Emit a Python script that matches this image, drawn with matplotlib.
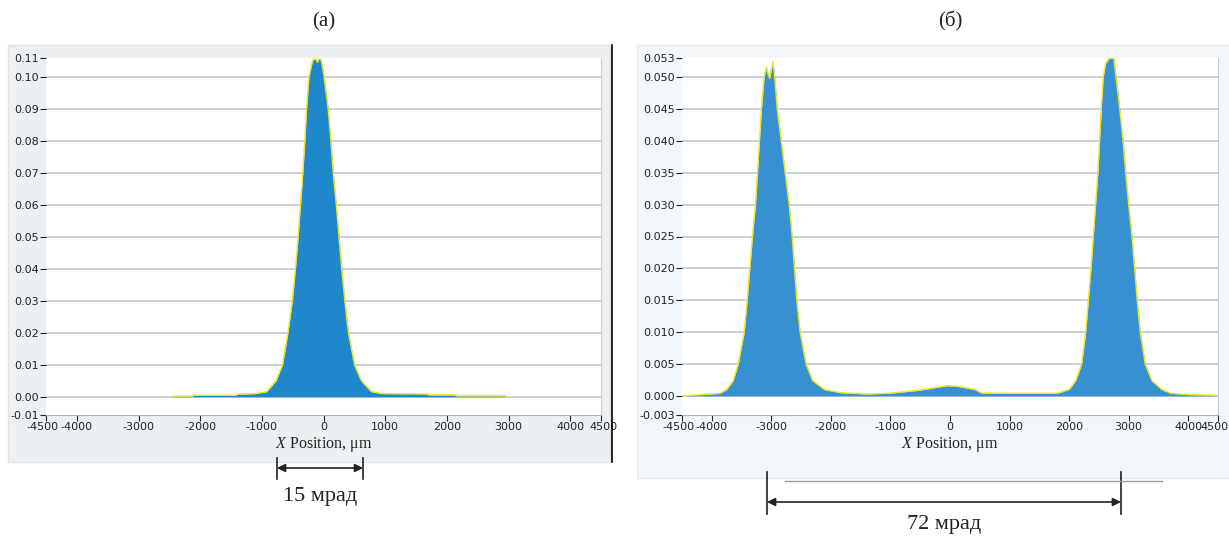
import matplotlib
matplotlib.use("Agg")
import matplotlib.pyplot as plt
from matplotlib.patches import Rectangle
from matplotlib.lines import Line2D
from matplotlib.transforms import blended_transform_factory, ScaledTranslation

plt.rcParams["mathtext.fontset"] = "custom"
plt.rcParams["mathtext.rm"] = "Liberation Serif"
plt.rcParams["mathtext.it"] = "Liberation Serif:italic"

# (a) профиль одного пучка
x_a = [-2450, -2120, -2120, -1410, -1410, -1100, -923, -769, -665, -577, -506,
       -456, -412, -374, -336, -303, -275, -237, -220, -180, -155, -120, -100,
       -80, -50, -33, 10, 76, 120, 158, 208, 252, 296, 346, 405, 504, 614, 779,
       950, 1700, 1700, 2150, 2150, 2950]
y_a = [0.0002, 0.0002, 0.0005, 0.0005, 0.0008, 0.0010, 0.0016, 0.005, 0.010,
       0.020, 0.030, 0.040, 0.050, 0.060, 0.070, 0.080, 0.090, 0.100, 0.1016,
       0.1050, 0.1058, 0.1055, 0.1047, 0.1056, 0.1057, 0.1050, 0.100, 0.090,
       0.080, 0.070, 0.060, 0.050, 0.040, 0.030, 0.020, 0.010, 0.005, 0.0016,
       0.0010, 0.0009, 0.0006, 0.0006, 0.0003, 0.0003]

# (б) два пучка
x_b = [-4500, -4330, -4010, -3866, -3750, -3639, -3556, -3456, -3406, -3361,
       -3317, -3267, -3233, -3200, -3167, -3122, -3083, -3055, -3028, -2995,
       -2972, -2944, -2900, -2833, -2767, -2700, -2650, -2611, -2572, -2517,
       -2417, -2306, -2111, -1833, -1400, -1030, -509, -46, 127, 417, 532, 1000,
       1806, 1833, 2000, 2111, 2211, 2278, 2322, 2367, 2406, 2444, 2483, 2511,
       2539, 2572, 2611, 2667, 2750, 2789, 2850, 2906, 2950, 3000, 3056, 3100,
       3144, 3194, 3278, 3389, 3556, 3715, 4005, 4450]
y_b = [0.0000, 0.0001, 0.0003, 0.0004, 0.0010, 0.0024, 0.005, 0.010, 0.015,
       0.020, 0.025, 0.030, 0.035, 0.040, 0.045, 0.050, 0.0516, 0.0505, 0.0498,
       0.0515, 0.0525, 0.050, 0.045, 0.040, 0.035, 0.030, 0.025, 0.020, 0.015,
       0.010, 0.005, 0.0024, 0.0010, 0.0005, 0.0003, 0.0004, 0.0009, 0.0016,
       0.0015, 0.0010, 0.00046, 0.0004, 0.0004, 0.0005, 0.0010, 0.0024, 0.005,
       0.010, 0.015, 0.020, 0.025, 0.030, 0.035, 0.040, 0.045, 0.050, 0.0521,
       0.0529, 0.0530, 0.050, 0.045, 0.040, 0.035, 0.030, 0.025, 0.020, 0.015,
       0.010, 0.005, 0.0024, 0.0010, 0.0004, 0.0002, 0.0001]

x_ticks = [-4500, -4000, -3000, -2000, -1000, 0, 1000, 2000, 3000, 4000, 4500]
x_ticklabels = ["-4500", "-4000", "-3000", "-2000", "-1000", "0", "1000",
                "2000", "3000", "4000", "4500"]

grid_a = [0.00, 0.01, 0.02, 0.03, 0.04, 0.05, 0.06, 0.07, 0.08, 0.09, 0.10]
yticks_a = [-0.0057] + grid_a + [0.106]
ylabels_a = ["-0.01", "0.00", "0.01", "0.02", "0.03", "0.04", "0.05", "0.06",
             "0.07", "0.08", "0.09", "0.10", "0.11"]

grid_b = [0.000, 0.005, 0.010, 0.015, 0.020, 0.025, 0.030, 0.035, 0.040,
          0.045, 0.050]
yticks_b = [-0.003] + grid_b + [0.053]
ylabels_b = ["-0.003", "0.000", "0.005", "0.010", "0.015", "0.020", "0.025",
             "0.030", "0.035", "0.040", "0.045", "0.050", "0.053"]

# размеры стрелок (в мкм)
arrow_a = (-754, 641)
arrow_b = (-3073, 2871)
line_b = (-2770, 3560)

W, H = 1229, 540
fig = plt.figure(figsize=(W / 100, H / 100), dpi=100)
fig.patch.set_facecolor("white")


def box(x0, y0, x1, y1):
    # пиксели сверху-вниз -> доли фигуры
    return [x0 / W, 1 - y1 / H, (x1 - x0) / W, (y1 - y0) / H]


def fy(y):
    return 1 - y / H


tick_font = dict(family=["Liberation Sans Narrow", "DejaVu Sans"], size=8)
serif = ["Liberation Serif", "DejaVu Serif"]

# фоновые рамки
fig.add_artist(Rectangle((8 / W, fy(462)), 602 / W, 417 / H,
                         transform=fig.transFigure, facecolor="#edf0f2",
                         edgecolor="#dfe3e6", lw=1, zorder=0))
fig.add_artist(Rectangle((637 / W, fy(478)), 600 / W, 433 / H,
                         transform=fig.transFigure, facecolor="#f1f7fb",
                         edgecolor="#e2ecf3", lw=1, zorder=0))
fig.add_artist(Line2D([612 / W, 612 / W], [fy(45), fy(462)],
                      transform=fig.transFigure, color="black", lw=1.2))

panels = [
    (box(46, 58, 601, 415), x_a, y_a, (-0.0057, 0.106), grid_a, yticks_a,
     ylabels_a, "#1f88cb", "(a)"),
    (box(682, 58, 1218, 415), x_b, y_b, (-0.003, 0.053), grid_b, yticks_b,
     ylabels_b, "#3790d0", "(б)"),
]

axes = []
for rect, xs, ys, ylim, grid, yt, yl, fillc, title in panels:
    ax = fig.add_axes(rect)
    ax.set_facecolor("white")
    for g in grid:
        ax.axhline(g, color="#c4c8cc", lw=1.2, zorder=1)
    ax.fill_between(xs, ys, 0, color=fillc, lw=0, zorder=2)
    ax.plot(xs, ys, color="#f2e520", lw=1.0, zorder=3)
    ax.set_xlim(-4500, 4500)
    ax.set_ylim(*ylim)
    ax.set_xticks(x_ticks)
    ax.set_xticklabels(x_ticklabels, **tick_font)
    ax.set_yticks(yt)
    ax.set_yticklabels(yl, **tick_font)
    ax.tick_params(axis="both", direction="out", length=4, width=0.8,
                   colors="#222222", pad=1)
    ax.spines["top"].set_visible(False)
    ax.spines["left"].set_visible(False)
    ax.spines["right"].set_color("#c8ccd0")
    ax.spines["bottom"].set_color("#b0b4b8")
    ax.set_xlabel(r"$\mathit{X}$ Position, μm", family=serif, size=11.5,
                  labelpad=2, color="#222222")
    ax.set_title(title, family=serif, size=15, pad=23, color="#222222")
    axes.append(ax)

ax_a, ax_b = axes


def nudge(label, dx_px):
    label.set_transform(label.get_transform()
                        + ScaledTranslation(dx_px / 100, 0, fig.dpi_scale_trans))


# крайние подписи стоят тесно: раздвинуть их
for ax in axes:
    labels = ax.get_xticklabels()
    nudge(labels[0], -3)
    nudge(labels[-1], 3)

# правая подпись 4500 упирается в край картинки: прижать её влево
last = ax_b.get_xticklabels()[-1]
last.set_horizontalalignment("right")
nudge(last, 8)


def dim_arrow(ax, x0, x1, y_arrow, y_top, y_bot, label, y_text):
    tr = blended_transform_factory(ax.transData, fig.transFigure)
    for x in (x0, x1):
        fig.add_artist(Line2D([x, x], [fy(y_top), fy(y_bot)], transform=tr,
                              color="#222222", lw=1.2))
    ax.annotate("", xy=(x1, fy(y_arrow)), xytext=(x0, fy(y_arrow)),
                xycoords=tr, textcoords=tr, annotation_clip=False,
                arrowprops=dict(arrowstyle="<|-|>", color="#222222", lw=1.2,
                                shrinkA=0, shrinkB=0, mutation_scale=12))
    ax.text((x0 + x1) / 2, fy(y_text), label, transform=tr, ha="center",
            va="center", family=serif, size=16, color="#222222")


dim_arrow(ax_a, arrow_a[0], arrow_a[1], 468, 458, 479, "15 мрад", 497)
dim_arrow(ax_b, arrow_b[0], arrow_b[1], 502, 472, 514, "72 мрад", 525)

tr_b = blended_transform_factory(ax_b.transData, fig.transFigure)
fig.add_artist(Line2D(list(line_b), [fy(481), fy(481)], transform=tr_b,
                      color="#9a9a9a", lw=1))

fig.savefig("out.png", dpi=100)
